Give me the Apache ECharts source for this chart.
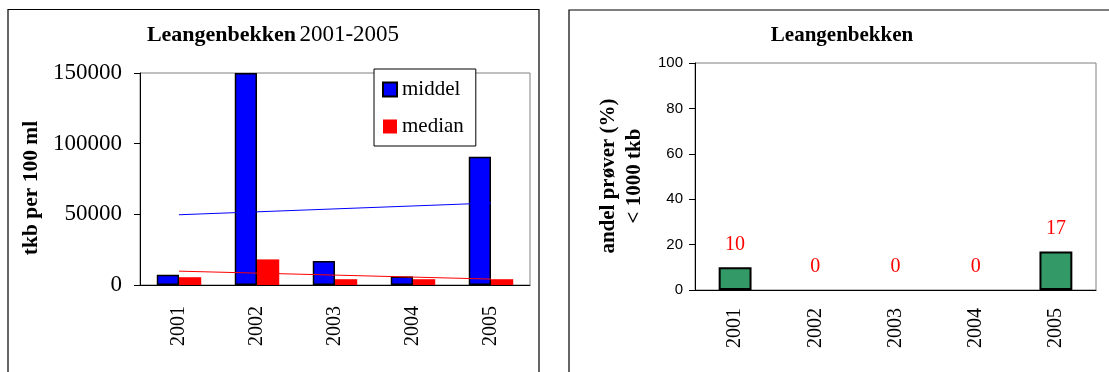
<!DOCTYPE html>
<html>
<head>
<meta charset="utf-8">
<script src="https://cdn.jsdelivr.net/npm/echarts@6/dist/echarts.min.js"></script>
<style>
  html, body { margin: 0; padding: 0; background: #fff; }
  #chart { width: 1109px; height: 372px; }
</style>
</head>
<body>
<div id="chart"></div>
<script>
// ---- data ----
const categories = ['2001', '2002', '2003', '2004', '2005'];
const middel = [7300, 150000, 17000, 6000, 90800];
const median = [5500, 18100, 4100, 4100, 4100];
// linear trend lines: value at first year and at last year
const trendYears = ['2001', '2005'];
const middelTrend = [49700, 58000];
const medianTrend = [9800, 4200];
const andel = [10, 0, 0, 0, 17];
const leftTicks = [0, 50000, 100000, 150000];
const rightTicks = [0, 20, 40, 60, 80, 100];

const SERIF = "'Liberation Serif', 'Times New Roman', serif";
const SANS = "'Liberation Sans', Arial, sans-serif";

const chart = echarts.init(document.getElementById('chart'), null, { renderer: 'canvas' });

const option = {
  animation: false,
  backgroundColor: '#ffffff',
  legend: {
    data: ['middel', 'median'],
    orient: 'vertical',
    left: 374,
    top: 69,
    padding: [10, 12, 9, 8],
    itemGap: 16,
    itemWidth: 14,
    itemHeight: 14,
    icon: 'rect',
    backgroundColor: '#ffffff',
    borderColor: '#000000',
    borderWidth: 1,
    textStyle: { fontFamily: SERIF, fontSize: 21, color: '#000' }
  },
  grid: [
    { left: 140, top: 73, width: 390, height: 212, show: true, borderColor: '#808080', borderWidth: 1, backgroundColor: 'transparent' },
    { left: 695, top: 63, width: 401, height: 227, show: true, borderColor: '#808080', borderWidth: 1, backgroundColor: 'transparent' }
  ],
  xAxis: [
    {
      gridIndex: 0, type: 'category', data: categories,
      axisLine: { lineStyle: { color: '#000', width: 1 } },
      axisTick: { length: 6, lineStyle: { color: '#000' } },
      axisLabel: { rotate: 90, margin: 21, fontFamily: SERIF, fontSize: 20, color: '#000' },
      splitLine: { show: false }
    },
    {
      gridIndex: 1, type: 'category', data: categories,
      axisLine: { lineStyle: { color: '#000', width: 1 } },
      axisTick: { length: 6, lineStyle: { color: '#000' } },
      axisLabel: { rotate: 90, margin: 18, fontFamily: SERIF, fontSize: 20, color: '#000' },
      splitLine: { show: false }
    }
  ],
  yAxis: [
    {
      gridIndex: 0, type: 'value',
      min: leftTicks[0], max: leftTicks[leftTicks.length - 1], interval: leftTicks[1] - leftTicks[0],
      axisLine: { show: true, lineStyle: { color: '#000', width: 1 } },
      axisTick: { show: true, length: 6, lineStyle: { color: '#000' } },
      axisLabel: { margin: 18, fontFamily: SERIF, fontSize: 23, color: '#000', formatter: v => String(v) },
      splitLine: { show: false }
    },
    {
      gridIndex: 1, type: 'value',
      min: rightTicks[0], max: rightTicks[rightTicks.length - 1], interval: rightTicks[1] - rightTicks[0],
      axisLine: { show: true, lineStyle: { color: '#000', width: 1 } },
      axisTick: { show: true, length: 6, lineStyle: { color: '#000' } },
      axisLabel: { margin: 12, fontFamily: SANS, fontSize: 15, color: '#000', formatter: v => String(v) },
      splitLine: { show: false }
    }
  ],
  series: [
    {
      name: 'middel', type: 'bar', xAxisIndex: 0, yAxisIndex: 0, data: middel,
      barGap: '0%', barCategoryGap: '43%',
      itemStyle: { color: '#0000ff', borderColor: '#000', borderWidth: 1.5 }
    },
    {
      name: 'median', type: 'bar', xAxisIndex: 0, yAxisIndex: 0, data: median,
      barGap: '0%', barCategoryGap: '43%',
      itemStyle: { color: '#ff0000', borderWidth: 0 }
    },
    {
      name: 'middel trend', type: 'line', xAxisIndex: 0, yAxisIndex: 0, z: 5,
      data: trendYears.map((y, i) => [y, middelTrend[i]]),
      symbol: 'none', silent: true,
      lineStyle: { color: '#0000ff', width: 1 }
    },
    {
      name: 'median trend', type: 'line', xAxisIndex: 0, yAxisIndex: 0, z: 5,
      data: trendYears.map((y, i) => [y, medianTrend[i]]),
      symbol: 'none', silent: true,
      lineStyle: { color: '#ff0000', width: 1 }
    },
    {
      name: 'andel', type: 'bar', xAxisIndex: 1, yAxisIndex: 1,
      data: andel.map(v => (v === 0 ? { value: v, itemStyle: { borderWidth: 0 } } : v)),
      barCategoryGap: '59%',
      itemStyle: { color: '#339966', borderColor: '#000', borderWidth: 2 },
      label: {
        show: true, position: 'top', distance: 13,
        fontFamily: SERIF, fontSize: 20, color: '#ff0000'
      }
    }
  ],
  graphic: [
    { type: 'rect', z: -10, shape: { x: 8, y: 9.5, width: 531, height: 420 }, style: { fill: 'none', stroke: '#000', lineWidth: 1.2 } },
    { type: 'rect', z: -10, shape: { x: 569, y: 10, width: 620, height: 420 }, style: { fill: 'none', stroke: '#000', lineWidth: 1.2 } },
    {
      type: 'text', x: 273, y: 35,
      style: {
        text: '{b|Leangenbekken} {n|2001-2005}',
        align: 'center', verticalAlign: 'middle',
        rich: {
          b: { fontFamily: SERIF, fontSize: 22, fontWeight: 'bold', fill: '#000' },
          n: { fontFamily: SERIF, fontSize: 23, fill: '#000' }
        }
      }
    },
    {
      type: 'text', x: 842, y: 36,
      style: { text: 'Leangenbekken', font: "bold 21px 'Liberation Serif'", fill: '#000', align: 'center', verticalAlign: 'middle' }
    },
    {
      type: 'text', x: 31, y: 188, rotation: Math.PI / 2,
      style: { text: 'tkb per 100 ml', font: "bold 21.5px 'Liberation Serif'", fill: '#000', align: 'center', verticalAlign: 'middle' }
    },
    {
      type: 'text', x: 622, y: 176, rotation: Math.PI / 2,
      style: { text: 'andel prøver (%)\n< 1000 tkb', font: "bold 21px 'Liberation Serif'", lineHeight: 26, fill: '#000', align: 'center', verticalAlign: 'middle' }
    }
  ]
};

chart.setOption(option);
</script>
</body>
</html>
